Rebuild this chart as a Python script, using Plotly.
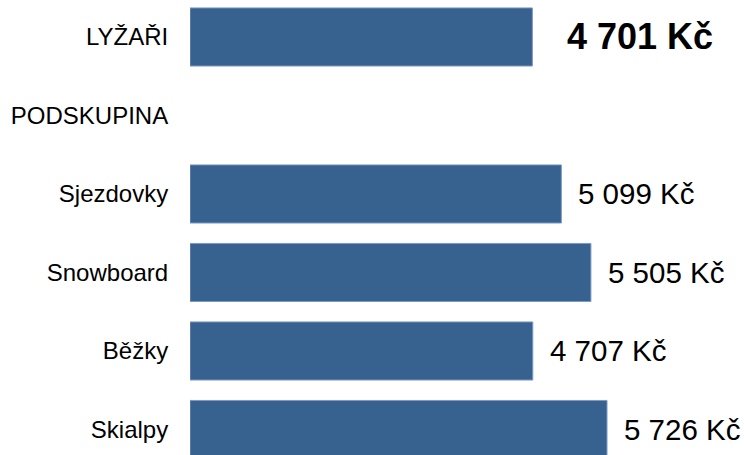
import plotly.graph_objects as go

# Average spend per group (CZK)
categories = ["LYŽAŘI", "PODSKUPINA", "Sjezdovky", "Snowboard", "Běžky", "Skialpy"]
values = [4701, None, 5099, 5505, 4707, 5726]
bold_flags = [True, False, False, False, False, False]

BAR_COLOR = "#37618F"
FONT = "Arial, Liberation Sans, sans-serif"


def fmt_czk(v):
    return f"{v:,}".replace(",", " ") + " Kč"


fig = go.Figure(
    go.Bar(
        x=values,
        y=categories,
        orientation="h",
        width=0.74,
        marker=dict(color=BAR_COLOR, line=dict(color="#7C9AC0", width=1)),
        hoverinfo="skip",
    )
)

# Value labels to the right of each bar
for cat, v, bold in zip(categories, values, bold_flags):
    if v is None:
        continue
    fig.add_annotation(
        x=v,
        y=cat,
        xref="x",
        yref="y",
        text=f"<b>{fmt_czk(v)}</b>" if bold else fmt_czk(v),
        showarrow=False,
        xanchor="left",
        yanchor="middle",
        xshift=33 if bold else 15,
        font=dict(family=FONT, size=36 if bold else 29.5, color="#000000"),
    )

fig.update_layout(
    width=744,
    height=455,
    margin=dict(l=190, r=0, t=0, b=0),
    paper_bgcolor="white",
    plot_bgcolor="white",
    showlegend=False,
    font=dict(family=FONT, color="#000000"),
    xaxis=dict(
        range=[0, 7607],
        visible=False,
        showgrid=False,
        zeroline=False,
        fixedrange=True,
    ),
    yaxis=dict(
        type="category",
        categoryorder="array",
        categoryarray=categories,
        range=[5.325, -0.471],
        autorange=False,
        showgrid=False,
        zeroline=False,
        showline=False,
        ticks="outside",
        ticklen=16,
        tickcolor="rgba(0,0,0,0)",
        tickfont=dict(family=FONT, size=24, color="#000000"),
        fixedrange=True,
    ),
)

fig.write_html("out.html")
